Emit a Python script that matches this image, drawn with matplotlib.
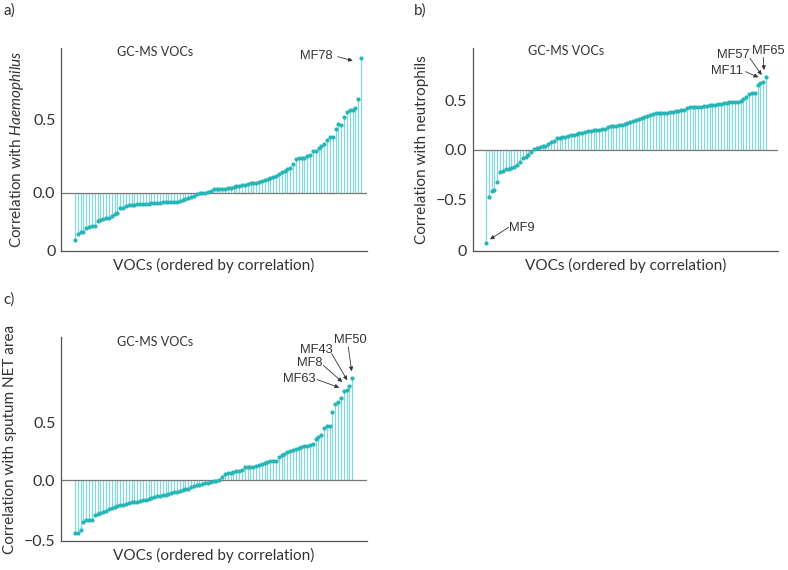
import numpy as np
import matplotlib
matplotlib.use("Agg")
import matplotlib.pyplot as plt
from matplotlib.transforms import offset_copy

plt.rcParams['font.family'] = ['Lato', 'DejaVu Sans']
plt.rcParams['mathtext.fontset'] = 'custom'
plt.rcParams['mathtext.rm'] = 'Lato'
plt.rcParams['mathtext.it'] = 'Lato:italic'

# ---------------- data ----------------
haemophilus = [
    -0.321, -0.278, -0.262, -0.262, -0.240, -0.233, -0.226, -0.224, -0.192, -0.183,
    -0.176, -0.172, -0.168, -0.155, -0.143, -0.138, -0.104, -0.100, -0.090, -0.085,
    -0.082, -0.080, -0.078, -0.076, -0.075, -0.073, -0.072, -0.070, -0.069, -0.067,
    -0.066, -0.064, -0.063, -0.062, -0.061, -0.060, -0.058, -0.055, -0.050, -0.042,
    -0.037, -0.030, -0.020, -0.004, 0.000, 0.000, 0.000, 0.005, 0.014, 0.025,
    0.027, 0.028, 0.029, 0.030, 0.032, 0.035, 0.040, 0.044, 0.048, 0.052,
    0.056, 0.064, 0.066, 0.066, 0.070, 0.074, 0.080, 0.086, 0.093, 0.100,
    0.110, 0.118, 0.130, 0.140, 0.150, 0.162, 0.172, 0.198, 0.228, 0.235,
    0.235, 0.234, 0.250, 0.260, 0.282, 0.285, 0.305, 0.318, 0.335, 0.362,
    0.378, 0.378, 0.434, 0.468, 0.462, 0.514, 0.548, 0.563, 0.566, 0.580,
    0.640, 0.914,
]
neutrophils = [
    -0.933, -0.477, -0.413, -0.403, -0.319, -0.218, -0.208, -0.195, -0.188, -0.183,
    -0.166, -0.150, -0.120, -0.084, -0.070, -0.050, -0.020, 0.010, 0.025, 0.033,
    0.040, 0.045, 0.057, 0.077, 0.090, 0.124, 0.124, 0.129, 0.134, 0.140,
    0.146, 0.152, 0.158, 0.166, 0.174, 0.181, 0.187, 0.194, 0.197, 0.200,
    0.201, 0.208, 0.215, 0.232, 0.238, 0.242, 0.245, 0.247, 0.250, 0.258,
    0.270, 0.280, 0.290, 0.298, 0.310, 0.319, 0.334, 0.343, 0.355, 0.367,
    0.369, 0.369, 0.369, 0.372, 0.376, 0.379, 0.385, 0.393, 0.396, 0.398,
    0.405, 0.418, 0.430, 0.433, 0.433, 0.435, 0.437, 0.441, 0.446, 0.450,
    0.452, 0.457, 0.462, 0.466, 0.470, 0.477, 0.480, 0.482, 0.483, 0.486,
    0.497, 0.515, 0.535, 0.560, 0.570, 0.574, 0.654, 0.678, 0.685, 0.730,
]
net_area = [
    -0.462, -0.460, -0.434, -0.367, -0.350, -0.350, -0.345, -0.303, -0.298, -0.283,
    -0.275, -0.266, -0.251, -0.246, -0.231, -0.225, -0.217, -0.217, -0.208, -0.202,
    -0.194, -0.188, -0.188, -0.179, -0.176, -0.171, -0.162, -0.156, -0.150, -0.142,
    -0.136, -0.130, -0.127, -0.121, -0.113, -0.104, -0.101, -0.095, -0.090, -0.081,
    -0.075, -0.064, -0.052, -0.046, -0.040, -0.035, -0.029, -0.023, -0.017, -0.012,
    -0.006, 0.003, 0.026, 0.052, 0.058, 0.064, 0.072, 0.078, 0.081, 0.092,
    0.110, 0.110, 0.113, 0.116, 0.124, 0.130, 0.139, 0.150, 0.159, 0.165,
    0.165, 0.168, 0.197, 0.215, 0.228, 0.243, 0.250, 0.258, 0.268, 0.283,
    0.288, 0.294, 0.298, 0.303, 0.310, 0.360, 0.372, 0.388, 0.455, 0.467,
    0.474, 0.592, 0.665, 0.680, 0.717, 0.775, 0.780, 0.815, 0.890,
]

panel_letters = ['a)', 'b)', 'c)']
inset_title = 'GC-MS VOCs'
x_label = 'VOCs (ordered by correlation)'
y_labels = [r'Correlation with $\mathit{Haemophilus}$',
            'Correlation with neutrophils',
            'Correlation with sputum NET area']
# y ticks: (values, labels); the lowest tick sits on the axis floor
ticks_a = ([-0.394, 0.0, 0.5], ['0', '0.0', '0.5'])
ticks_b = ([-1.016, -0.5, 0.0, 0.5], ['0', '\u22120.5', '0.0', '0.5'])
ticks_c = ([-0.529, 0.0, 0.5], ['\u22120.5', '0.0', '0.5'])

# labels: (name, index of VOC in sorted order)
labels_a = [('MF78', 101)]
labels_b = [('MF9', 0), ('MF11', 97), ('MF57', 98), ('MF65', 99)]
labels_c = [('MF63', 95), ('MF8', 96), ('MF43', 97), ('MF50', 98)]

# ---------------- style ----------------
STEM = '#86d9da'
DOT = '#26b6b8'
AXC = '#555555'
TXT = '#333333'
LABEL_FONT = ['Liberation Sans', 'DejaVu Sans']

fig = plt.figure(figsize=(7.88, 5.70), dpi=100)

def make_panel(rect, vals, ylim, xlim, ticks, ylabel, letter, letter_pos, title_pos):
    ax = fig.add_axes(rect)
    x = np.arange(len(vals))
    v = np.asarray(vals)
    ax.vlines(x, 0, v, color=STEM, lw=0.9, zorder=1)
    ax.plot(x, v, 'o', ms=3.0, color=DOT, mec='none', zorder=3)
    ax.axhline(0, color='#777777', lw=0.9, zorder=2)
    ax.set_xlim(*xlim)
    ax.set_ylim(*ylim)
    ax.set_xticks([])
    ax.set_yticks(ticks[0])
    ax.set_yticklabels(ticks[1])
    ax.tick_params(axis='y', length=0, pad=4, labelsize=11.5, colors=TXT)
    for s in ['top', 'right']:
        ax.spines[s].set_visible(False)
    for s in ['left', 'bottom']:
        ax.spines[s].set_color(AXC)
        ax.spines[s].set_linewidth(0.9)
    ax.set_ylabel(ylabel, fontsize=11, color=TXT, labelpad=5)
    ax.set_xlabel(x_label, fontsize=11, color=TXT, labelpad=5)
    ax.text(title_pos[0], title_pos[1], inset_title, transform=ax.transAxes,
            fontsize=9, color=TXT, ha='left', va='center')
    fig.text(letter_pos[0], letter_pos[1], letter, fontsize=11, color=TXT,
             ha='left', va='center')
    return ax, v

def label(ax, v, name, idx, tip, tail, txt, ha):
    # tip: offset of arrow tip from point (px); tail: offset of tail from tip; txt: text offset from point
    tr = offset_copy(ax.transData, fig=fig, x=tip[0], y=tip[1], units='dots')
    ax.annotate('', xy=(idx, v[idx]), xycoords=tr, xytext=tail,
                textcoords='offset pixels',
                arrowprops=dict(arrowstyle='-|>', color='#333333', lw=0.6,
                                mutation_scale=6, shrinkA=0, shrinkB=0))
    ax.annotate(name, xy=(idx, v[idx]), xytext=txt, textcoords='offset pixels',
                fontsize=9.3, color=TXT, ha=ha, va='center', family=LABEL_FONT)

W, H = 788.0, 570.0
def rect(l, t, r, b):
    return [l / W, 1 - b / H, (r - l) / W, (b - t) / H]

ax_a, va_ = make_panel(rect(61, 48, 367, 251), haemophilus, (-0.394, 0.984), (-4.9, 103.1),
                       ticks_a, y_labels[0], panel_letters[0], (3 / W, 1 - 11 / H), (0.183, 0.98))
ax_b, vb_ = make_panel(rect(472.7, 48.3, 778.3, 251), neutrophils, (-1.016, 1.023), (-4.7, 103.3),
                       ticks_b, y_labels[1], panel_letters[1], (414 / W, 1 - 11 / H), (0.182, 0.985))
ax_c, vc_ = make_panel(rect(61, 337, 367, 541), net_area, (-0.529, 1.243), (-4.95, 103.2),
                       ticks_c, y_labels[2], panel_letters[2], (3 / W, 1 - 300 / H), (0.183, 0.975))

name, idx = labels_a[0]
label(ax_a, va_, name, idx, (-8.3, -2.4), (-15, 4), (-28.3, 2.6), 'right')

b_specs = {
    'MF9': ((4, 3.4), (18.6, 12), (23.3, 14.4), 'left'),
    'MF11': ((-2.2, 5.3), (-12.6, 5.6), (-17.2, 11.9), 'right'),
    'MF57': ((-1.6, 6.9), (-11.7, 16.7), (-13.3, 26.9), 'right'),
    'MF65': ((-2.2, 7.4), (-0.7, 12.7), (-14.5, 26.7), 'left'),
}
for name, idx in labels_b:
    tip, tail, txt, ha = b_specs[name]
    label(ax_b, vb_, name, idx, tip, tail, txt, ha)

c_specs = {
    'MF50': ((-0.6, 6.4), (-3.4, 24.3), (-18.3, 37.4), 'left'),
    'MF43': ((-2.2, 6.0), (-15.6, 26.7), (-16.8, 36.7), 'right'),
    'MF8': ((-4.4, 8.3), (-19.0, 16.7), (-24.4, 27.3), 'right'),
    'MF63': ((-4.6, 3.3), (-22.0, 8.0), (-27.9, 11.6), 'right'),
}
for name, idx in labels_c:
    tip, tail, txt, ha = c_specs[name]
    label(ax_c, vc_, name, idx, tip, tail, txt, ha)

fig.savefig('out.png', dpi=100)
